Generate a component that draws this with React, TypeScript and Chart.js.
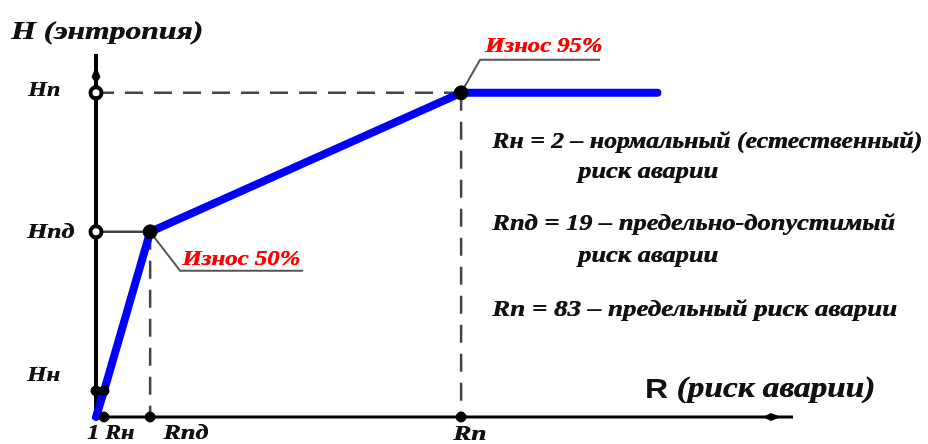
import React, { useEffect, useRef } from "react";
import { Chart, registerables } from "chart.js";
Chart.register(...registerables);

// schematic curve (abstract units, not to scale)
const curveR = [0, 1.5, 10.1, 68.1, 104.7];
const curveH = [0, 7.2, 51.0, 89.3, 89.3];
const levelNamesR = ["1 Rн", "Rпд", "Rп"];
const levelR = [1.5, 10.1, 68.1];
const levelNamesH = ["Hн", "Hпд", "Hп"];
const levelH = [7.2, 51.0, 89.3];
const wearLabels = ["Износ 50%", "Износ 95%"];
const legendLines = [
  "Rн = 2 – нормальный (естественный)",
  "риск аварии",
  "Rпд = 19 – предельно-допустимый",
  "риск аварии",
  "Rп = 83 – предельный риск аварии",
];
const yTitle = "H (энтропия)";
const xTitleLetter = "R";
const xTitleRest = " (риск аварии)";
const xMax = 130;
const yMax = 100;

const SERIF = "'Liberation Serif', 'Times New Roman', serif";
const SANS = "'Liberation Sans', Arial, sans-serif";

function fitText(ctx: CanvasRenderingContext2D, text: string, x: number, y: number, font: string, width: number) {
  ctx.font = font;
  const w = ctx.measureText(text).width;
  ctx.save();
  ctx.translate(x, y);
  ctx.scale(width / w, 1);
  ctx.fillText(text, 0, 0);
  ctx.fillText(text, 0.5, 0);
  ctx.restore();
}

const schemePlugin = {
  id: "scheme",
  beforeDatasetsDraw(chart: any) {
    const { ctx, scales, chartArea } = chart;
    const x = scales.x, y = scales.y;
    const x0 = x.getPixelForValue(0);
    const y0 = y.getPixelForValue(0);
    ctx.save();
    ctx.strokeStyle = "#454545";
    ctx.lineWidth = 2.5;
    const xp = levelR.map((v) => x.getPixelForValue(v));
    const yp = levelH.map((v) => y.getPixelForValue(v));
    ctx.setLineDash([18, 11]);
    ctx.beginPath();
    ctx.moveTo(x0, yp[2]);
    ctx.lineTo(xp[2], yp[2]);
    ctx.stroke();
    ctx.beginPath();
    ctx.moveTo(xp[2], yp[2]);
    ctx.lineTo(xp[2], y0);
    ctx.stroke();
    ctx.beginPath();
    ctx.moveTo(xp[1], yp[1]);
    ctx.lineTo(xp[1], y0);
    ctx.stroke();
    ctx.setLineDash([]);
    ctx.beginPath();
    ctx.moveTo(x0, yp[1]);
    ctx.lineTo(xp[1], yp[1]);
    ctx.stroke();
    // leader lines
    ctx.strokeStyle = "#555";
    ctx.lineWidth = 2;
    ctx.beginPath();
    ctx.moveTo(xp[1], yp[1]);
    ctx.lineTo(xp[1] + 30, yp[1] + 39);
    ctx.lineTo(xp[1] + 153, yp[1] + 39);
    ctx.stroke();
    ctx.beginPath();
    ctx.moveTo(xp[2], yp[2]);
    ctx.lineTo(xp[2] + 19, yp[2] - 33);
    ctx.lineTo(xp[2] + 139, yp[2] - 33);
    ctx.stroke();

    // axes
    ctx.strokeStyle = "#000";
    ctx.fillStyle = "#000";
    ctx.lineWidth = 4;
    ctx.beginPath();
    ctx.moveTo(x0, y0 + 2);
    ctx.lineTo(x0, chartArea.top);
    ctx.stroke();
    ctx.beginPath();
    ctx.moveTo(x0, chartArea.top + 12);
    ctx.lineTo(x0 + 4.5, chartArea.top + 23);
    ctx.lineTo(x0, chartArea.top + 30);
    ctx.lineTo(x0 - 4.5, chartArea.top + 23);
    ctx.closePath();
    ctx.fill();
    ctx.lineWidth = 3;
    ctx.beginPath();
    ctx.moveTo(x0, y0);
    ctx.lineTo(chartArea.right, y0);
    ctx.stroke();
    ctx.beginPath();
    ctx.moveTo(chartArea.right - 12, y0);
    ctx.lineTo(chartArea.right - 22, y0 - 4);
    ctx.lineTo(chartArea.right - 30, y0);
    ctx.lineTo(chartArea.right - 22, y0 + 4);
    ctx.closePath();
    ctx.fill();
    ctx.restore();
  },
  afterDatasetsDraw(chart: any) {
    const { ctx, scales } = chart;
    const x = scales.x, y = scales.y;
    const y0 = y.getPixelForValue(0);
    const xp = levelR.map((v) => x.getPixelForValue(v));
    const yp = levelH.map((v) => y.getPixelForValue(v));
    ctx.save();
    ctx.fillStyle = "#111111";
    ctx.textBaseline = "middle";
    ctx.textAlign = "left";
    const f20 = `italic bold 20px ${SERIF}`;
    // y-level labels
    fitText(ctx, levelNamesH[2], 28, yp[2] - 2, f20, 32);
    fitText(ctx, levelNamesH[1], 27, yp[1] + 1, f20, 47);
    fitText(ctx, levelNamesH[0], 27, yp[0] - 15, f20, 33);
    // x-level labels
    fitText(ctx, levelNamesR[0], xp[0] - 17, y0 + 17, f20, 47);
    fitText(ctx, levelNamesR[1], xp[1] + 13, y0 + 17, f20, 45);
    fitText(ctx, levelNamesR[2], xp[2] - 8, y0 + 18, f20, 33);
    // titles
    fitText(ctx, yTitle, 11, 32, `italic bold 26px ${SERIF}`, 192);
    {
      const fR = `bold 28px ${SANS}`;
      const fRest = `italic bold 29px ${SERIF}`;
      ctx.font = fR;
      const w1 = ctx.measureText(xTitleLetter).width;
      ctx.font = fRest;
      const w2 = ctx.measureText(xTitleRest).width;
      const s = 230 / (w1 + w2);
      ctx.save();
      ctx.translate(645, 390);
      ctx.scale(s, 1);
      ctx.font = fR;
      ctx.fillText(xTitleLetter, 0, 0);
      ctx.font = fRest;
      ctx.fillText(xTitleRest, w1, 0);
      ctx.fillText(xTitleRest, w1 + 0.5, 0);
      ctx.restore();
    }
    // legend
    const f23 = `italic bold 23px ${SERIF}`;
    fitText(ctx, legendLines[0], 492, 142, f23, 430);
    fitText(ctx, legendLines[1], 578, 172, f23, 140);
    fitText(ctx, legendLines[2], 492, 224, f23, 403);
    fitText(ctx, legendLines[3], 578, 256, f23, 140);
    fitText(ctx, legendLines[4], 492, 310, f23, 405);
    // wear labels
    ctx.fillStyle = "#ff0000";
    const f22 = `italic bold 22px ${SERIF}`;
    fitText(ctx, wearLabels[0], xp[1] + 32, yp[1] + 27, f22, 118);
    fitText(ctx, wearLabels[1], xp[2] + 24, yp[2] - 47, f22, 117);
    ctx.restore();
  },
};

export default function App() {
  const ref = useRef<HTMLCanvasElement | null>(null);
  useEffect(() => {
    if (!ref.current) return;
    const chart = new Chart(ref.current, {
      type: "scatter",
      data: {
        datasets: [
          {
            type: "line",
            data: curveR.map((r, i) => ({ x: r, y: curveH[i] })),
            borderColor: "#0000ff",
            borderWidth: 8,
            borderCapStyle: "round",
            borderJoinStyle: "round",
            pointRadius: 0,
            showLine: true,
            clip: false,
            order: 3,
          } as any,
          {
            data: [
              { x: levelR[1], y: levelH[1] },
              { x: levelR[2], y: levelH[2] },
            ],
            pointRadius: 7,
            pointBackgroundColor: "#000",
            pointBorderColor: "#000",
            pointBorderWidth: 1,
            clip: false,
            order: 1,
          } as any,
          {
            data: [
              { x: 0, y: levelH[1] },
              { x: 0, y: levelH[2] },
            ],
            pointRadius: 5.5,
            pointBackgroundColor: "#fff",
            pointBorderColor: "#000",
            pointBorderWidth: 4,
            clip: false,
            order: 1,
          } as any,
          {
            data: [
              { x: 0, y: levelH[0] },
              { x: levelR[0], y: levelH[0] },
              { x: levelR[0], y: 0 },
              { x: levelR[1], y: 0 },
              { x: levelR[2], y: 0 },
            ],
            pointRadius: 5,
            pointBackgroundColor: "#000",
            pointBorderColor: "#000",
            pointBorderWidth: 1,
            clip: false,
            order: 1,
          } as any,
        ],
      },
      options: {
        animation: false,
        responsive: false,
        layout: { padding: { left: 96, top: 54, right: 135, bottom: 27 } },
        plugins: { legend: { display: false }, tooltip: { enabled: false } },
        scales: {
          x: { type: "linear", min: 0, max: xMax, display: false },
          y: { type: "linear", min: 0, max: yMax, display: false },
        },
      },
      plugins: [schemePlugin],
    });
    return () => chart.destroy();
  }, []);
  return (
    <div style={{ position: "absolute", left: 0, top: 0, width: 928, height: 444, background: "#fff" }}>
      <canvas ref={ref} width={928} height={444} />
    </div>
  );
}
